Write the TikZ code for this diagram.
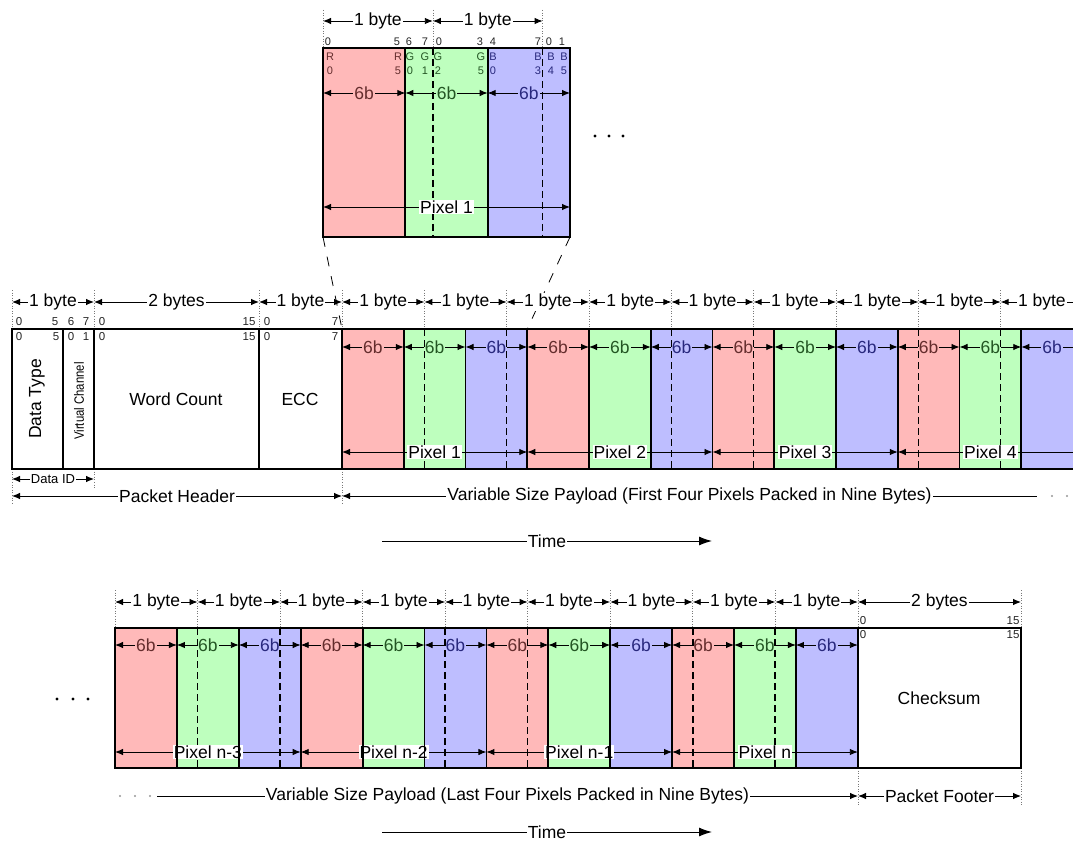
\documentclass[tikz,border=0pt]{standalone}
\usepackage{fontspec}
\setmainfont{Liberation Sans}
\usetikzlibrary{arrows.meta}
\definecolor{seg0}{RGB}{255,185,185}
\definecolor{seg1}{RGB}{190,255,190}
\definecolor{seg2}{RGB}{190,190,255}
\definecolor{txt0}{RGB}{100,45,45}
\definecolor{txt1}{RGB}{35,85,35}
\definecolor{txt2}{RGB}{40,40,125}
\definecolor{guidegray}{RGB}{120,120,120}
\definecolor{dotgray}{RGB}{150,150,150}
\begin{document}
\begin{tikzpicture}[x=1pt,y=-1pt,
  big/.style={font=\fontsize{17.5}{19}\selectfont},
  lbl/.style={big, fill=white, inner sep=1pt},
  sixlbl/.style={big, inner sep=1pt},
  bit/.style={font=\fontsize{11.5}{12}\selectfont, inner sep=0pt, text=black!85},
  ibit/.style={font=\fontsize{11}{12}\selectfont, inner sep=0pt},
  dim/.style={line width=0.9pt, arrows={Latex[length=8pt,width=6.5pt]-Latex[length=8pt,width=6.5pt]}},
  ldim/.style={line width=0.9pt, arrows={Latex[length=8pt,width=6.5pt]-}},
  rdim/.style={line width=0.9pt, arrows={-Latex[length=8pt,width=6.5pt]}},
  timearrow/.style={line width=1pt, arrows={-Latex[length=13pt,width=9pt]}},
  frame/.style={line width=1.8pt, line cap=rect},
  guideline/.style={draw=guidegray, line width=0.6pt, dotted},
  bytesep/.style={line width=1.6pt, dash pattern=on 7pt off 4pt},
  proj/.style={line width=0.8pt, dash pattern=on 10pt off 10pt}
]
\clip (0,0) rectangle (1073,842);
\fill[white] (0,0) rectangle (1073,842);

% ================= INSET =================
\foreach \i in {0,1,2}{
  \pgfmathsetmacro\xa{323+\i*82.333}
  \pgfmathsetmacro\xb{323+(\i+1)*82.333}
  \fill[seg\i] (\xa,48) rectangle (\xb,237);
  \coordinate (i6a\i) at (\xa,93);
  \coordinate (i6b\i) at (\xb,93);
  \draw[dim] (i6a\i) -- node[sixlbl, fill=seg\i, text=txt\i] (i6t\i) {6b} (i6b\i);
}
\foreach \k/\x in {1/432.8, 2/542.6}{
  \coordinate (idt\k) at (\x,48);
  \coordinate (idb\k) at (\x,237);
  \draw[bytesep] (idt\k) -- (idb\k);
}
\foreach \k/\x in {0/323, 1/432.8, 2/542.6}{
  \coordinate (igt\k) at (\x,10);
  \coordinate (igb\k) at (\x,48);
  \draw[guideline] (igt\k) -- (igb\k);
  \coordinate (ib\k) at (\x,21);
}
\draw[dim] (ib0) -- node[lbl] (ibt0) {1 byte} (ib1);
\draw[dim] (ib1) -- node[lbl] (ibt1) {1 byte} (ib2);
\coordinate (ipa) at (323,207);
\coordinate (ipb) at (570,207);
\draw[dim] (ipa) -- node[lbl] (ipt) {Pixel 1} (ipb);
\draw[frame] (323,48) rectangle (570,237);
\draw[frame] (405.33,48) -- (405.33,237);
\draw[frame] (487.67,48) -- (487.67,237);
% inset bit labels
\foreach \x/\t [count=\n] in {328/0,397/5,409/6,425/7,439/0,480/3,493/4,538/7,549/0,562/1}
  \node[ibit, text=black!85] (ia\n) at (\x,42) {\t};
\foreach \x/\t/\c [count=\n] in {330/R/0,398/R/0,410/G/1,425/G/1,438/G/1,481/G/1,493/B/2,538/B/2,551/B/2,564/B/2}
  \node[ibit, text=txt\c] (ir\n) at (\x,57) {\t};
\foreach \x/\t/\c [count=\n] in {330/0/0,398/5/0,410/0/1,425/1/1,438/2/1,481/5/1,493/0/2,538/3/2,551/4/2,564/5/2}
  \node[ibit, text=txt\c] (in\n) at (\x,71) {\t};
\foreach \x in {595,609,623} \fill (\x,136) circle (1.6);

% projection lines
\coordinate (pjl) at (323,237);
\coordinate (pjr) at (570,237);
\coordinate (pml) at (342,329);
\coordinate (pmr) at (527.25,329);
\draw[proj] (pjl) -- (pml);
\draw[proj] (pjr) -- (pmr);

% ================= MAIN ROW =================
\foreach \i in {0,...,11}{
  \pgfmathsetmacro\xa{342+\i*61.75}
  \pgfmathsetmacro\xb{342+(\i+1)*61.75}
  \pgfmathtruncatemacro\c{mod(\i,3)}
  \fill[seg\c] (\xa,329) rectangle (\xb,469);
  \coordinate (m6a\i) at (\xa,347);
  \coordinate (m6b\i) at (\xb,347);
  \draw[dim] (m6a\i) -- node[sixlbl, fill=seg\c, text=txt\c] (m6t\i) {6b} (m6b\i);
}
\foreach \k in {1,2,4,5,7,8}{
  \pgfmathsetmacro\x{342+\k*82.333}
  \coordinate (mdt\k) at (\x,329);
  \coordinate (mdb\k) at (\x,469);
  \draw[bytesep] (mdt\k) -- (mdb\k);
}
\foreach \k in {0,...,9}{
  \pgfmathsetmacro\x{342+\k*82.333}
  \coordinate (mg\k) at (\x,290);
  \coordinate (mgb\k) at (\x,329);
  \draw[guideline] (mg\k) -- (mgb\k);
  \coordinate (mb\k) at (\x,302);
}
\foreach \k [evaluate=\k as \kn using int(\k+1)] in {0,...,8}
  \draw[dim] (mb\k) -- node[lbl] (mbt\k) {1 byte} (mb\kn);
\foreach \p [evaluate=\p as \pn using int(\p+1)] in {0,...,3}{
  \pgfmathsetmacro\xa{342+3*\p*61.75}
  \pgfmathsetmacro\xb{342+3*(\p+1)*61.75}
  \coordinate (mpa\p) at (\xa,452);
  \coordinate (mpb\p) at (\xb,452);
  \draw[dim] (mpa\p) -- node[lbl] (mpt\p) {Pixel \pn} (mpb\p);
}
% header guides and dims
\foreach \k/\x in {0/12, 1/94, 2/259}{
  \coordinate (hg\k) at (\x,290);
  \coordinate (hgb\k) at (\x,329);
  \draw[guideline] (hg\k) -- (hgb\k);
  \coordinate (hb\k) at (\x,302);
}
\coordinate (hb3) at (342,302);
\draw[dim] (hb0) -- node[lbl] (hbt0) {1 byte} (hb1);
\draw[dim] (hb1) -- node[lbl] (hbt1) {2 bytes} (hb2);
\draw[dim] (hb2) -- node[lbl] (hbt2) {1 byte} (hb3);
% guides below
\coordinate (gl0) at (12,469);  \coordinate (gl0b) at (12,505);
\coordinate (gl1) at (94,469);  \coordinate (gl1b) at (94,488);
\coordinate (gl2) at (342,469); \coordinate (gl2b) at (342,505);
\draw[guideline] (gl0) -- (gl0b);
\draw[guideline] (gl1) -- (gl1b);
\draw[guideline] (gl2) -- (gl2b);
% frames
\draw[frame] (12,329) -- (1090,329);
\draw[frame] (12,469) -- (1090,469);
\foreach \x in {12,63,94,259} \draw[frame] (\x,329) -- (\x,469);
\foreach \i in {0,...,12}{
  \pgfmathsetmacro\x{342+\i*61.75}
  \draw[frame] (\x,329) -- (\x,469);
}
% header bits
\foreach \x/\t [count=\n] in {19/0,55/5,71/6,86/7,102/0,249/15,267/0,335/7}
  \node[bit] (hbit\n) at (\x,322) {\t};
\foreach \x/\t [count=\n] in {19/0,56/5,71/0,86/1,102/0,249/15,267/0,335/7}
  \node[bit] (hbin\n) at (\x,337) {\t};
% header field names
\node[big, rotate=90] (dtype) at (37,399) {Data Type};
\node[font=\fontsize{13.5}{14}\selectfont, rotate=90] (vchan) at (79,401) {\scalebox{0.84}[1]{Virtual Channel}};
\node[big] (wcount) at (176,399) {Word Count};
\node[big] (ecc) at (300,399) {ECC};
% Data ID, Packet Header, payload
\coordinate (did0) at (12,479); \coordinate (did1) at (94,479);
\draw[dim] (did0) -- node[fill=white, inner sep=1pt, font=\fontsize{13}{14}\selectfont] (didt) {Data ID} (did1);
\coordinate (ph0) at (12,496); \coordinate (ph1) at (342,496);
\draw[dim] (ph0) -- node[lbl] (pht) {Packet Header} (ph1);
\coordinate (vp0) at (342,496); \coordinate (vp1) at (1037,496);
\draw[ldim] (vp0) -- node[lbl] (vpt) {Variable Size Payload (First Four Pixels Packed in Nine Bytes)} (vp1);
\foreach \x in {1052,1067} \fill[dotgray] (\x,496) circle (1.1);
\coordinate (t10) at (382,541); \coordinate (t11) at (712,541);
\draw[timearrow] (t10) -- node[lbl] (t1t) {Time} (t11);

% ================= BOTTOM ROW =================
\foreach \i in {0,...,11}{
  \pgfmathsetmacro\xa{115+\i*61.9}
  \pgfmathsetmacro\xb{115+(\i+1)*61.9}
  \pgfmathtruncatemacro\c{mod(\i,3)}
  \fill[seg\c] (\xa,628) rectangle (\xb,768);
  \coordinate (b6a\i) at (\xa,645);
  \coordinate (b6b\i) at (\xb,645);
  \draw[dim] (b6a\i) -- node[sixlbl, fill=seg\c, text=txt\c] (b6t\i) {6b} (b6b\i);
}
\foreach \k in {1,2,4,5,7,8}{
  \pgfmathsetmacro\x{115+\k*82.533}
  \coordinate (bdt\k) at (\x,628);
  \coordinate (bdb\k) at (\x,768);
  \draw[bytesep] (bdt\k) -- (bdb\k);
}
\foreach \k in {0,...,9}{
  \pgfmathsetmacro\x{115+\k*82.533}
  \coordinate (bg\k) at (\x,590);
  \coordinate (bgb\k) at (\x,628);
  \draw[guideline] (bg\k) -- (bgb\k);
  \coordinate (bb\k) at (\x,602);
}
\coordinate (bg10) at (1021,590); \coordinate (bgb10) at (1021,628);
\draw[guideline] (bg10) -- (bgb10);
\coordinate (bb10) at (1021,602);
\foreach \k [evaluate=\k as \kn using int(\k+1)] in {0,...,8}
  \draw[dim] (bb\k) -- node[lbl] (bbt\k) {1 byte} (bb\kn);
\draw[dim] (bb9) -- node[lbl] (bbt9) {2 bytes} (bb10);
\foreach \p/\nm in {0/n-3, 1/n-2, 2/n-1, 3/n}{
  \pgfmathsetmacro\xa{115+3*\p*61.9}
  \pgfmathsetmacro\xb{115+3*(\p+1)*61.9}
  \coordinate (bpa\p) at (\xa,752);
  \coordinate (bpb\p) at (\xb,752);
  \draw[dim] (bpa\p) -- node[lbl] (bpt\p) {Pixel \nm} (bpb\p);
}
\coordinate (bl0) at (858,768);  \coordinate (bl0b) at (858,805);
\coordinate (bl1) at (1021,768); \coordinate (bl1b) at (1021,805);
\draw[guideline] (bl0) -- (bl0b);
\draw[guideline] (bl1) -- (bl1b);
% frames
\draw[frame] (115,628) rectangle (1021,768);
\foreach \i in {1,...,12}{
  \pgfmathsetmacro\x{115+\i*61.9}
  \draw[frame] (\x,628) -- (\x,768);
}
% checksum
\node[bit] (cb1) at (863,621) {0};
\node[bit] (cb2) at (1013,621) {15};
\node[bit] (cb3) at (863,635) {0};
\node[bit] (cb4) at (1013,635) {15};
\node[big] (csum) at (939,698) {Checksum};
\foreach \x in {57,73,88} \fill (\x,699) circle (1.6);
% bottom labels
\foreach \x in {120,135,150} \fill[dotgray] (\x,796) circle (1.1);
\coordinate (lp0) at (157,796); \coordinate (lp1) at (858,796);
\draw[rdim] (lp0) -- node[lbl] (lpt) {Variable Size Payload (Last Four Pixels Packed in Nine Bytes)} (lp1);
\coordinate (pf0) at (858,796); \coordinate (pf1) at (1021,796);
\draw[dim] (pf0) -- node[lbl] (pft) {Packet Footer} (pf1);
\coordinate (t20) at (382,832); \coordinate (t21) at (712,832);
\draw[timearrow] (t20) -- node[lbl, inner sep=0.5pt] (t2t) {Time} (t21);
\end{tikzpicture}
\end{document}
